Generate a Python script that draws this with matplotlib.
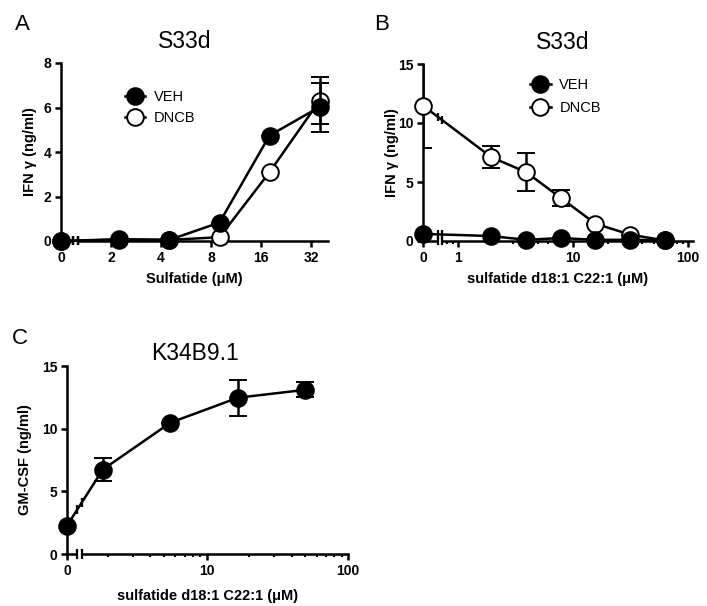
import numpy as np
import matplotlib
matplotlib.use("Agg")
import matplotlib.pyplot as plt
from matplotlib.patches import Rectangle
import matplotlib.transforms as mtransforms

plt.rcParams['font.family'] = ['Liberation Sans', 'DejaVu Sans']

# ---------------- data ----------------
# Panel A
a_x = [0, 2.25, 4.5, 9, 18, 36]
a_veh = [0.0, 0.06, 0.05, 0.83, 4.74, 6.02]
a_veh_err = [0, 0, 0, 0, 0, 1.1]
a_dncb = [0.0, 0.08, 0.05, 0.17, 3.09, 6.30]
a_dncb_err = [0, 0, 0, 0, 0, 1.05]
a_xticks = [0, 2, 4, 8, 16, 32]
a_yticks = [0, 2, 4, 6, 8]

# Panel B
b_x = [0, 1.95, 3.9, 7.8, 15.6, 31.25, 62.5]
b_veh = [0.6, 0.42, 0.10, 0.25, 0.10, 0.10, 0.08]
b_veh_err = [0, 0, 0, 0, 0, 0, 0]
b_dncb = [11.47, 7.10, 5.84, 3.66, 1.47, 0.54, 0.05]
b_dncb_err = [3.6, 0.95, 1.62, 0.69, 0, 0, 0]
b_xticks = [0, 1, 10, 100]
b_yticks = [0, 5, 10, 15]

# Panel C
c_x = [0, 1.85, 5.56, 16.7, 50]
c_y = [2.26, 6.74, 10.48, 12.47, 13.1]
c_err = [0, 0.95, 0, 1.42, 0.6]
c_xticks = [0, 10, 100]
c_yticks = [0, 5, 10, 15]


def make_scale(base, t, z0):
    lt = np.log(t) / np.log(base)
    k = (lt - z0) / t

    def fwd(x):
        x = np.asarray(x, dtype=float)
        safe = np.where(x > t, x, t)
        lg = np.log(safe) / np.log(base)
        return np.where(x >= t, lg, z0 + k * x)

    def inv(y):
        y = np.asarray(y, dtype=float)
        return np.where(y >= lt, np.power(base, np.minimum(y, 50)), (y - z0) / k)

    return fwd, inv


W, H = 707, 606
fig = plt.figure(figsize=(W / 100, H / 100), dpi=100)


def px_axes(l, r, t, b):
    return fig.add_axes([l / W, 1 - b / H, (r - l) / W, (b - t) / H])


LW = 1.8
MS = 12
TICKFS = 10
LABFS = 10.5


def style(ax, ylim, yticks):
    ax.set_ylim(*ylim)
    ax.set_yticks(yticks)
    for s in ['top', 'right']:
        ax.spines[s].set_visible(False)
    for s in ['left', 'bottom']:
        ax.spines[s].set_linewidth(1.8)
    ax.tick_params(which='major', length=4.5, width=1.8, labelsize=TICKFS, pad=2.5)
    ax.tick_params(which='minor', length=2.5, width=1.5)


def add_break(ax, lo, hi, fwd, series):
    blend = mtransforms.blended_transform_factory(ax.transData, ax.transAxes)
    y0, y1 = ax.get_ylim()
    ax.add_patch(Rectangle((lo, -0.04), hi - lo, 1.05, transform=blend,
                           facecolor='white', edgecolor='none', zorder=3.5, clip_on=False))
    half = 0.024
    marks = []
    for xs, vals in series:
        xa, xb = xs[0], xs[1]
        ya, yb = vals[0], vals[1]
        for xv in (lo, hi):
            f = (fwd(xv) - fwd(xa)) / (fwd(xb) - fwd(xa))
            yy = ya + (yb - ya) * f
            marks.append((xv, (yy - y0) / (y1 - y0)))
    for xv in (lo, hi):
        marks.append((xv, 0.0))
    for xv, ya_ in marks:
        ax.plot([xv, xv], [ya_ - half, ya_ + half], transform=blend, color='black', lw=1.6,
                zorder=4, clip_on=False, solid_capstyle='butt')


def series(ax, x, y, err, filled, label):
    fc = 'black' if filled else 'white'
    h = ax.errorbar(x, y, yerr=err, fmt='-o', color='black', lw=LW, ms=MS,
                    mfc=fc, mec='black', mew=1.4, capsize=6.5, capthick=LW,
                    elinewidth=LW, label=label, zorder=6 if filled else 5)
    h[0].set_clip_on(False)
    for c in h[1]:
        c.set_clip_on(True)
    for c in h[2]:
        c.set_clip_on(True)
    return h


def bold_ticks(ax):
    for lab in ax.get_xticklabels() + ax.get_yticklabels():
        lab.set_fontweight('bold')


# ---------------- Panel A ----------------
axA = px_axes(61, 328, 63, 241)
fA, iA = make_scale(2, 1.27, 0.0)
axA.set_xscale('function', functions=(fA, iA))
axA.set_xlim(0, 40.5)
style(axA, (0, 8), a_yticks)
axA.set_xticks(a_xticks)
axA.set_xticklabels([str(v) for v in a_xticks])
axA.xaxis.set_minor_locator(matplotlib.ticker.NullLocator())
hA2 = series(axA, a_x, a_dncb, a_dncb_err, False, 'DNCB')
hA1 = series(axA, a_x, a_veh, a_veh_err, True, 'VEH')
add_break(axA, 0.92, 1.27, fA, [(a_x, a_veh), (a_x, a_dncb)])
axA.set_xlabel('Sulfatide (μM)', fontsize=LABFS, fontweight='bold', labelpad=5)
axA.set_ylabel('IFN γ (ng/ml)', fontsize=LABFS, fontweight='bold')
axA.yaxis.set_label_coords(-0.09, 0.5)
axA.set_title('S33d', fontsize=16.5, pad=11, x=0.464)
axA.legend(handles=[hA1[0], hA2[0]], labels=['VEH', 'DNCB'], frameon=False,
           loc='upper left', bbox_to_anchor=(0.19, 0.92), fontsize=10.5,
           handlelength=1.4, handletextpad=0.6, labelspacing=0.45, numpoints=1)
bold_ticks(axA)

# ---------------- Panel B ----------------
axB = px_axes(423, 693, 64, 241)
fB, iB = make_scale(10, 0.726, -0.304)
axB.set_xscale('function', functions=(fB, iB))
axB.set_xlim(0, 110)
style(axB, (0, 15), b_yticks)
axB.set_xticks(b_xticks)
axB.set_xticklabels([str(v) for v in b_xticks])
b_minor = [0.8, 0.9] + [m * d for d in (1, 10) for m in range(2, 10)]
axB.set_xticks(b_minor, minor=True)
hB2 = series(axB, b_x, b_dncb, b_dncb_err, False, 'DNCB')
hB1 = series(axB, b_x, b_veh, b_veh_err, True, 'VEH')
add_break(axB, 0.57, 0.726, fB, [(b_x, b_veh), (b_x, b_dncb)])
axB.set_xlabel('sulfatide d18:1 C22:1 (μM)', fontsize=LABFS, fontweight='bold', labelpad=5)
axB.set_ylabel('IFN γ (ng/ml)', fontsize=LABFS, fontweight='bold')
axB.yaxis.set_label_coords(-0.089, 0.5)
axB.set_title('S33d', fontsize=16.5, pad=11, x=0.519)
axB.legend(handles=[hB1[0], hB2[0]], labels=['VEH', 'DNCB'], frameon=False,
           loc='upper left', bbox_to_anchor=(0.348, 0.995), fontsize=10.5,
           handlelength=1.4, handletextpad=0.6, labelspacing=0.6, numpoints=1)
bold_ticks(axB)

# ---------------- Panel C ----------------
axC = px_axes(67, 348, 366, 554)
fC, iC = make_scale(10, 1.32, 0.014)
axC.set_xscale('function', functions=(fC, iC))
axC.set_xlim(0, 100)
style(axC, (0, 15), c_yticks)
axC.set_xticks(c_xticks)
axC.set_xticklabels([str(v) for v in c_xticks])
c_minor = [m * d for d in (1, 10) for m in range(2, 10)]
axC.set_xticks(c_minor, minor=True)
series(axC, c_x, c_y, c_err, True, None)
add_break(axC, 0.88, 1.32, fC, [(c_x, c_y)])
axC.set_xlabel('sulfatide d18:1 C22:1 (μM)', fontsize=LABFS, fontweight='bold', labelpad=8)
axC.set_ylabel('GM-CSF (ng/ml)', fontsize=LABFS, fontweight='bold')
axC.yaxis.set_label_coords(-0.125, 0.5)
axC.set_title('K34B9.1', fontsize=16.5, pad=4, x=0.455)
bold_ticks(axC)

# panel letters
fig.text(22 / W, 1 - 24 / H, 'A', fontsize=16, ha='center', va='center')
fig.text(382 / W, 1 - 24 / H, 'B', fontsize=16, ha='center', va='center')
fig.text(20 / W, 1 - 338 / H, 'C', fontsize=16, ha='center', va='center')

fig.savefig('out.png', dpi=100)
